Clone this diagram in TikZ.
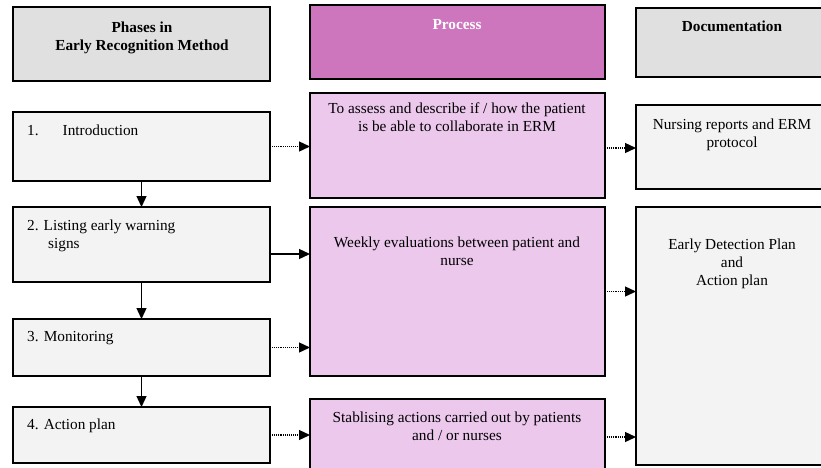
\documentclass[tikz,border=0pt]{standalone}
\usepackage{fontspec}
\setmainfont{Liberation Serif}
\usetikzlibrary{arrows.meta}
\definecolor{hdrgray}{HTML}{E0E0E0}
\definecolor{boxgray}{HTML}{F3F3F3}
\definecolor{procdark}{HTML}{CD76BE}
\definecolor{proclight}{HTML}{ECC8EC}
\tikzset{
  box/.style={draw=black, line width=1.3pt, rectangle, inner sep=0pt, outer sep=0pt, anchor=north west},
  hdr/.style={box, fill=hdrgray},
  lbox/.style={box, fill=boxgray},
  pdark/.style={box, fill=procdark},
  plight/.style={box, fill=proclight},
  txt/.style={inner sep=0pt, font=\fontsize{15.3}{18}\selectfont, align=center, anchor=north},
  btxt/.style={txt, font=\fontsize{15.3}{18}\selectfont\bfseries},
  ltxt/.style={txt, align=left, anchor=north west},
  solidarr/.style={line width=1.3pt, -{Triangle[length=11pt,width=10pt]}},
  dotarr/.style={line width=1.3pt, dash pattern=on 1pt off 0.9pt, -{Triangle[length=11pt,width=10pt]}},
}
\begin{document}
\begin{tikzpicture}[x=1pt,y=-1pt]
\useasboundingbox (0,0) rectangle (821,467);
\clip (0,0) rectangle (821,467);
\fill[white] (0,0) rectangle (821,467);
% headers
\node[hdr, minimum width=257pt, minimum height=74pt] (H1) at (13,7) {};
\node[pdark, minimum width=295pt, minimum height=74pt] (H2) at (310,5) {};
\node[hdr, minimum width=200pt, minimum height=69pt] (H3) at (636,8) {};
% left column
\node[lbox, minimum width=257pt, minimum height=69pt] (L1) at (13,112) {};
\node[lbox, minimum width=257pt, minimum height=75pt] (L2) at (13,207) {};
\node[lbox, minimum width=257pt, minimum height=57pt] (L3) at (13,319) {};
\node[lbox, minimum width=257pt, minimum height=56pt] (L4) at (13,407) {};
% middle column
\node[plight, minimum width=295pt, minimum height=105pt] (M1) at (310,93) {};
\node[plight, minimum width=295pt, minimum height=169pt] (M2) at (310,207) {};
\node[plight, minimum width=295pt, minimum height=76pt] (M3) at (310,399) {};
% right column
\node[lbox, minimum width=200pt, minimum height=84pt] (R1) at (636,105) {};
\node[lbox, minimum width=200pt, minimum height=258pt] (R2) at (636,207) {};
% texts
\node[btxt] (tH1) at (142,22) {Phases in\\Early Recognition Method};
\node[btxt, text=white] (tH2) at (457,19) {Process};
\node[btxt] (tH3) at (732,21) {Documentation};
\node[ltxt] (tL1) at (27,125) {1.\hspace{24pt}Introduction};
\node[ltxt] (tL2) at (27,220) {2.\hspace{5pt}Listing early warning\\\hspace{21pt}signs};
\node[ltxt] (tL3) at (27,331) {3. Monitoring};
\node[ltxt] (tL4) at (27,419) {4. Action plan};
\node[txt] (tM1) at (457,103) {To assess and describe if / how the patient\\is be able to collaborate in ERM};
\node[txt] (tM2) at (457,237) {Weekly evaluations between patient and\\nurse};
\node[txt] (tM3) at (457,412) {Stablising actions carried out by patients\\and / or nurses};
\node[txt] (tR1) at (732,119) {Nursing reports and ERM\\protocol};
\node[txt] (tR2) at (732,239) {Early Detection Plan\\and\\Action plan};
% vertical arrows
\draw[solidarr] (L1.south) -- (L2.north);
\draw[solidarr] (L2.south) -- (L3.north);
\draw[solidarr] (L3.south) -- (L4.north);
% horizontal arrows
\coordinate (a2) at ([yshift=-9.5pt]L2.east);
\coordinate (b1) at ([yshift=-2.5pt]M1.east);
\draw[dotarr] (L1.east) -- (L1.east -| M1.west);
\draw[solidarr] (a2) -- (a2 -| M2.west);
\draw[dotarr] (L3.east) -- (L3.east -| M2.west);
\draw[dotarr] (L4.east) -- (L4.east -| M3.west);
\draw[dotarr] (b1) -- (b1 -| R1.west);
\draw[dotarr] (M2.east) -- (M2.east -| R2.west);
\draw[dotarr] (M3.east) -- (M3.east -| R2.west);
\end{tikzpicture}
\end{document}
